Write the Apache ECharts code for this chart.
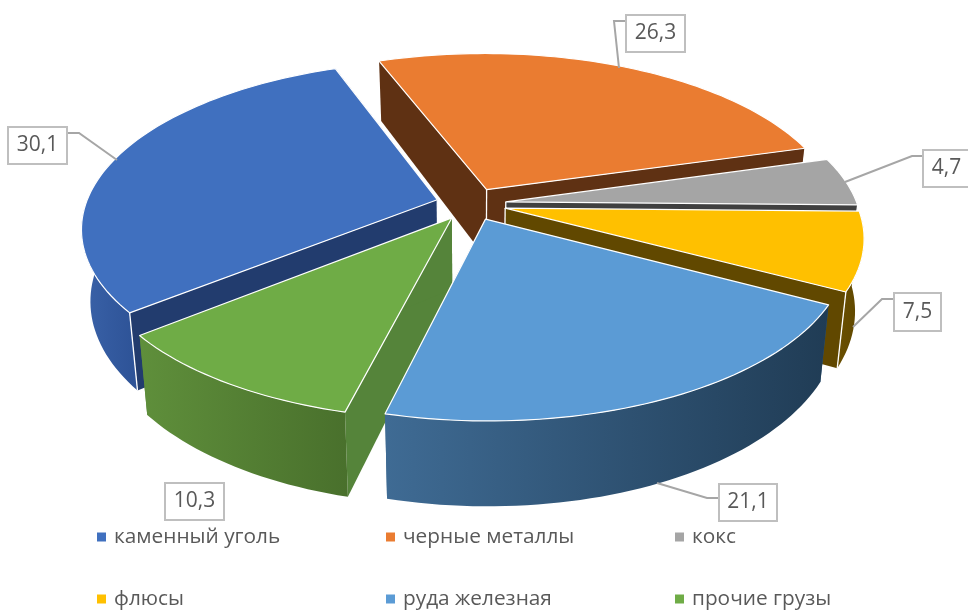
<!DOCTYPE html>
<html><head><meta charset="utf-8">
<style>html,body{margin:0;padding:0;background:#fff}#c{width:968px;height:612px}</style>
<script src="https://cdn.jsdelivr.net/npm/echarts@6/dist/echarts.min.js"></script>
</head><body><div id="c"></div>
<script>
const categories = ['каменный уголь','черные металлы','кокс','флюсы','руда железная','прочие грузы'];
const values = [30.1,26.3,4.7,7.5,21.1,10.3];

// styling and layout, separate from the data
const topColors = ['#4070bf','#ea7c31','#a5a5a5','#ffc000','#5b9bd5','#6fac46'];
const innerColors = ['#223c6e','#5f3113','#404040','#614800','#2f5d85','#55843a'];
const wallFrom = ['#3a62a8','#8a4a1c','#7a7a7a','#6a4f00','#3f6b94','#5f8f3b'];
const wallTo = ['#2d5296','#6b3814','#5f5f5f','#5e4600','#203c55','#49702c'];
const drawOrder = [1,2,0,3,5,4];
const legendPos = [[97,526.5],[386,526.5],[675,526.5],[97,588.5],[386,588.5],[675,588.5]];
const boxes = [[8,127,59,37],[626,15,59,37],[923,150,47,37],[894,293,47,38],[719,484,58,37],[165,483,59,37]];
const leaders = [
 [[67,133],[79,133],[117,160]],
 [[619,68],[614,21],[626,21]],
 [[923,156],[912,156],[845,182]],
 [[894,299],[882,299],[853,327]],
 [[719,498],[707,498],[657,483]],
 []
];
const P = {cx:471,cy:204,rx:351.5,ry:163,k:0.165,e:0.1,depth:70,shrink:0.977,start:231.1};
const rad = d => d*Math.PI/180;
function proj(U,V,bottom){
  const w = 1/(1-P.k*V);
  return [P.cx+P.rx*U*w*(bottom?P.shrink:1), P.cy+P.ry*V*w+(bottom?P.depth*w:0)];
}
const total = values.reduce((a,b)=>a+b,0);
function sliceAngles(i){
  let s=P.start; for(let j=0;j<i;j++) s+=values[j]/total*360;
  return [s, s+values[i]/total*360];
}
function poly(points,fill){return {type:'polygon',shape:{points},style:{fill},silent:true};}
function line(a,b){return {type:'line',shape:{x1:a[0],y1:a[1],x2:b[0],y2:b[1]},style:{stroke:'#fff',lineWidth:1.3},silent:true};}
function renderSlice(i,v){
  const [a0] = sliceAngles(i);
  const a1 = a0 + v/total*360;
  const mid = rad((a0+a1)/2);
  const U0 = P.e*Math.sin(mid), V0 = -P.e*Math.cos(mid);
  const rim = (deg,b)=>proj(U0+Math.sin(rad(deg)),V0-Math.cos(rad(deg)),b);
  const A=proj(U0,V0,false), Ab=proj(U0,V0,true);
  const topArc=[],botArc=[],frontTop=[],frontBot=[],n=Math.ceil((a1-a0)/1.5);
  for(let j=0;j<=n;j++){
    const d=a0+(a1-a0)*j/n,t=rim(d,false),b=rim(d,true);
    topArc.push(t);botArc.push(b);
    if(-Math.cos(rad(d))>0.02){frontTop.push(t);frontBot.push(b);}
  }
  const Q=rim((a0+a1)/2,false);
  const visible = p => {
    const t=(Q[0]-A[0])/(p[0]-A[0]);
    return A[1]+t*(p[1]-A[1]) > Q[1] && t>0 && t<1.5;
  };
  const p0=topArc[0],b0=botArc[0],p1=topArc[n],b1=botArc[n];
  const vis0=visible(p0),vis1=visible(p1);
  const children=[];
  const wall0=poly([A,p0,b0,Ab],innerColors[i]), wall1=poly([A,p1,b1,Ab],innerColors[i]);
  if(!vis0)children.push(wall0);
  if(!vis1)children.push(wall1);
  if(vis0)children.push(wall0);
  if(vis1)children.push(wall1);
  if(frontTop.length>1){
    children.push(poly(frontTop.concat(frontBot.slice().reverse()),
      new echarts.graphic.LinearGradient(0,0,1,0,[{offset:0,color:wallFrom[i]},{offset:1,color:wallTo[i]}])));
  }
  if(vis0){children.push(line(A,Ab));children.push(line(p0,b0));}
  if(vis1){children.push(line(A,Ab));children.push(line(p1,b1));}
  const top=poly([A].concat(topArc),topColors[i]);
  top.style.stroke='#fff';top.style.lineWidth=1.2;top.style.lineJoin='round';
  children.push(top);
  return {type:'group',children};
}
const series = drawOrder.map(i=>({
  type:'custom',name:categories[i],coordinateSystem:'none',silent:true,animation:false,
  itemStyle:{color:topColors[i]},
  data:[values[i]],
  renderItem:(params,api)=>renderSlice(i,api.value(0))
}));
series.push({
  type:'custom',name:'labels',coordinateSystem:'none',silent:true,animation:false,z:5,
  data:values,
  renderItem:(params,api)=>{
    const i=params.dataIndex,b=boxes[i],kids=[];
    if(leaders[i].length)kids.push({type:'polyline',shape:{points:leaders[i]},style:{fill:null,stroke:'#a6a6a6',lineWidth:2}});
    kids.push({type:'rect',shape:{x:b[0],y:b[1],width:b[2],height:b[3]},style:{fill:'#fff',stroke:'#bfbfbf',lineWidth:2}});
    kids.push({type:'text',style:{text:String(api.value(0)).replace('.',','),x:b[0]+b[2]/2,y:b[1]+b[3]/2,
      align:'center',verticalAlign:'middle',fill:'#595959',font:'21px "Open Sans"'}});
    return {type:'group',children:kids};
  }
});
const legend = categories.map((c,i)=>({
  data:[c],left:legendPos[i][0],top:legendPos[i][1],padding:0,icon:'rect',itemWidth:9,itemHeight:9,
  selectedMode:false,textStyle:{fontFamily:'Open Sans',fontSize:20.8,color:'#595959',padding:[0,0,0,3]}
}));
const chart=echarts.init(document.getElementById('c'),null,{renderer:'canvas'});
chart.setOption({backgroundColor:'#fff',animation:false,legend,series});
</script></body></html>
